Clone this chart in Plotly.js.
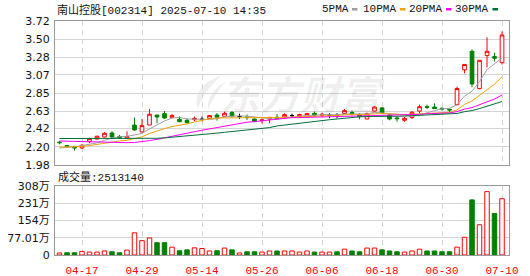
<!DOCTYPE html>
<html><head><meta charset="utf-8">
<script src="https://cdn.plot.ly/plotly-3.0.1.min.js"></script>
<style>html,body{margin:0;padding:0;background:#fff}#chart{width:530px;height:276px}</style>
</head><body><div id="chart"></div>
<script>
const dates = ["04-14","04-15","04-16","04-17","04-18","04-21","04-22","04-23","04-24","04-25","04-28","04-29","04-30",
"05-06","05-07","05-08","05-09","05-12","05-13","05-14","05-15","05-16","05-19","05-20","05-21","05-22","05-23","05-26","05-27","05-28","05-29","05-30",
"06-03","06-04","06-05","06-06","06-09","06-10","06-11","06-12","06-13","06-16","06-17","06-18","06-19","06-20","06-23","06-24","06-25","06-26","06-27","06-30",
"07-01","07-02","07-03","07-04","07-07","07-08","07-09","07-10"];

const opens  = [2.255,2.215,2.205,2.186,2.262,2.294,2.318,2.367,2.323,2.306,2.463,2.379,2.463,2.584,2.601,2.556,2.532,2.52,2.528,2.532,
                2.544,2.584,2.568,2.613,2.565,2.56,2.536,2.518,2.536,2.556,2.56,2.577,2.565,2.568,2.605,2.58,2.584,2.58,2.601,2.613,
                2.592,2.536,2.632,2.67,2.584,2.548,2.52,2.553,2.632,2.685,2.681,2.665,2.653,2.71,3.13,3.354,2.903,3.302,3.29,3.217];
const highs  = [2.27,2.222,2.21,2.234,2.31,2.335,2.375,2.387,2.343,2.387,2.553,2.536,2.657,2.584,2.632,2.596,2.565,2.544,2.565,2.568,
                2.584,2.608,2.625,2.632,2.6,2.589,2.54,2.544,2.56,2.596,2.605,2.6,2.6,2.61,2.625,2.613,2.605,2.605,2.657,2.637,
                2.605,2.613,2.689,2.68,2.592,2.565,2.56,2.632,2.71,2.71,2.725,2.677,2.661,2.927,3.2,3.378,3.245,3.523,3.338,3.594];
const lows   = [2.23,2.195,2.155,2.17,2.245,2.287,2.315,2.303,2.294,2.299,2.395,2.371,2.463,2.484,2.536,2.556,2.496,2.48,2.508,2.508,
                2.536,2.516,2.556,2.556,2.536,2.524,2.5,2.48,2.487,2.528,2.548,2.553,2.55,2.56,2.565,2.556,2.544,2.544,2.596,2.577,
                2.532,2.532,2.625,2.6,2.52,2.504,2.504,2.536,2.605,2.657,2.661,2.637,2.617,2.701,3.088,2.919,2.895,3.16,3.229,3.193];
const closes = [2.25,2.205,2.185,2.218,2.298,2.327,2.363,2.318,2.306,2.323,2.403,2.456,2.593,2.56,2.548,2.577,2.504,2.492,2.544,2.532,
                2.577,2.556,2.605,2.572,2.565,2.553,2.504,2.524,2.556,2.54,2.589,2.577,2.59,2.601,2.58,2.592,2.584,2.58,2.637,2.596,
                2.565,2.601,2.681,2.61,2.536,2.54,2.544,2.617,2.685,2.677,2.661,2.657,2.645,2.904,3.195,2.959,3.245,3.354,3.27,3.551];

const ma5  = [2.185,2.19,2.2,2.215,2.231,2.247,2.278,2.305,2.322,2.327,2.343,2.361,2.416,2.467,2.512,2.547,2.556,2.536,2.533,2.530,
              2.530,2.540,2.563,2.568,2.575,2.570,2.560,2.544,2.540,2.535,2.543,2.557,2.570,2.579,2.587,2.588,2.589,2.587,2.595,2.598,
              2.592,2.596,2.616,2.611,2.599,2.594,2.582,2.569,2.584,2.613,2.637,2.659,2.665,2.709,2.812,2.872,2.989,3.131,3.204,3.276];
const ma10 = [2.195,2.197,2.2,2.205,2.215,2.23,2.245,2.26,2.27,2.279,2.295,2.320,2.361,2.395,2.420,2.445,2.459,2.476,2.500,2.521,
              2.538,2.548,2.550,2.551,2.552,2.550,2.550,2.553,2.554,2.555,2.556,2.559,2.557,2.560,2.561,2.565,2.573,2.579,2.587,2.593,
              2.590,2.593,2.602,2.603,2.598,2.593,2.589,2.593,2.598,2.606,2.615,2.621,2.617,2.647,2.712,2.754,2.824,2.898,2.957,3.044];
const ma20 = [2.27,2.268,2.265,2.26,2.255,2.252,2.25,2.25,2.25,2.25,2.252,2.26,2.275,2.29,2.31,2.33,2.35,2.365,2.382,2.400,
              2.416,2.434,2.455,2.473,2.486,2.497,2.504,2.515,2.527,2.538,2.547,2.553,2.553,2.555,2.557,2.558,2.562,2.566,2.571,2.574,
              2.573,2.576,2.579,2.581,2.580,2.579,2.581,2.586,2.592,2.599,2.603,2.607,2.609,2.625,2.655,2.674,2.707,2.745,2.777,2.825];
const ma30 = [2.30,2.30,2.298,2.297,2.296,2.295,2.295,2.295,2.295,2.296,2.297,2.298,2.30,2.303,2.308,2.315,2.322,2.33,2.338,2.348,
              2.357,2.365,2.375,2.384,2.393,2.402,2.411,2.42,2.432,2.452,2.463,2.476,2.489,2.502,2.511,2.520,2.527,2.536,2.547,2.556,
              2.562,2.566,2.569,2.571,2.571,2.569,2.571,2.575,2.580,2.584,2.587,2.591,2.592,2.603,2.624,2.638,2.662,2.690,2.714,2.747];

// volume in 万 (10k)
const volume = [9,10,10,16,13,13,18,14.5,10,22,99,64,76,55,55,35,19,23,32,29,
                18,19,31,23,9,14.5,14.5,13,18,18,18,18,13,18,13,13,13,14.5,26,18,
                14.5,31,31,23,18,14.5,13,18,26,18,18,14.5,14.5,35,79,246,135,283,185,251.314];
// 1 = up day (red), -1 = down day (green), as shown by the volume bar colours
const volDir = [1,-1,-1,1,1,1,1,-1,-1,1,1,1,1,-1,-1,1,-1,-1,1,1,
                1,-1,1,-1,1,-1,-1,1,1,-1,1,1,1,1,-1,1,1,-1,1,-1,
                -1,1,1,-1,-1,-1,1,1,1,-1,-1,-1,-1,1,1,-1,1,1,-1,1];

const priceTicks = ["1.98","2.20","2.42","2.63","2.85","3.07","3.28","3.50","3.72"];
const volTickVals = [0,77.01,154.02,231.03,308.04];
const volTickText = ["0","77.01万","154万","231万","308万"];
const xTickIdx = [3,11,19,27,35,43,51,59];
const titleText = "南山控股[002314] 2025-07-10 14:35";
const volLabel = "成交量:2513140";
const maNames = ["5PMA","10PMA","20PMA","30PMA"];
const watermark = "东方财富";

const RED = "#ff0000", GREEN = "#008000";
const maColors = ["#a0a0a0","#f0a30a","#ff00ff","#00703a"];
const idx = dates.map((d,i)=>i);

const isFlat = i => opens[i] === closes[i];
const flatI = idx.filter(isFlat);
const regI = idx.filter(i => !isFlat(i));

const traces = [];
traces.push({
  type:"candlestick", x: regI, open: regI.map(i=>opens[i]), high: regI.map(i=>highs[i]),
  low: regI.map(i=>lows[i]), close: regI.map(i=>closes[i]), xaxis:"x", yaxis:"y",
  increasing:{line:{color:RED,width:1}, fillcolor:"#ffffff"},
  decreasing:{line:{color:GREEN,width:1}, fillcolor:GREEN},
  whiskerwidth:0, hoverinfo:"skip", showlegend:false
});
traces.push({
  type:"candlestick", x: flatI, open: flatI.map(i=>opens[i]), high: flatI.map(i=>highs[i]),
  low: flatI.map(i=>lows[i]), close: flatI.map(i=>closes[i]), xaxis:"x", yaxis:"y",
  increasing:{line:{color:"#000000",width:1}, fillcolor:"#000000"},
  decreasing:{line:{color:"#000000",width:1}, fillcolor:"#000000"},
  whiskerwidth:0, hoverinfo:"skip", showlegend:false
});
[ma5,ma10,ma20,ma30].forEach((m,k)=>{
  traces.push({type:"scatter", mode:"lines", x: idx, y: m, xaxis:"x", yaxis:"y",
    line:{color:maColors[k], width:1}, hoverinfo:"skip", showlegend:false, name: maNames[k]});
});
traces.push({type:"bar", x: idx, y: volume.map((v,i)=>volDir[i]>0?v:null), xaxis:"x", yaxis:"y2",
  width:0.6, marker:{color:"#ffffff", line:{color:RED,width:1}}, hoverinfo:"skip", showlegend:false});
traces.push({type:"bar", x: idx, y: volume.map((v,i)=>volDir[i]<0?v:null), xaxis:"x", yaxis:"y2",
  width:0.6, marker:{color:GREEN, line:{color:GREEN,width:1}}, hoverinfo:"skip", showlegend:false});

// layout geometry helpers (pixel -> paper)
const L = 55, R = 509, T = 21, B = 255;
const px = p => (p - L) / (R - L);
const py = p => (B - p) / (B - T);

const annotations = [];
const shapes = [];
const legendEnds = [350, 396.5, 442.5, 488.5];
const dashStarts = [352, 400, 446, 492.5];
maNames.forEach((n,k)=>{
  annotations.push({xref:"paper", yref:"paper", x:px(legendEnds[k]), y:py(9.5), xanchor:"right", yanchor:"middle",
    text:n, showarrow:false, borderpad:0, font:{family:"Liberation Mono, monospace", size:11, color:"#111"}});
  shapes.push({type:"rect", xref:"paper", yref:"paper", x0:px(dashStarts[k]), x1:px(dashStarts[k]+5.5),
    y0:py(10.5), y1:py(8), fillcolor:maColors[k], line:{width:0}});
});
annotations.push({xref:"paper", yref:"paper", x:px(57), y:py(177), xanchor:"left", yanchor:"middle",
  text:volLabel, showarrow:false, borderpad:0, font:{family:"Liberation Mono, Noto Sans CJK SC", size:11, color:"#111"}});
annotations.push({xref:"paper", yref:"paper", x:px(303), y:py(93), xanchor:"center", yanchor:"middle",
  text:"<b><i>"+watermark+"</i></b>", showarrow:false, font:{family:"Noto Sans CJK SC", size:40, color:"rgba(0,0,0,0.065)"}});
// watermark logo swoosh (decorative)
const lx0 = 192, ly0 = 75;
shapes.push({type:"path", xref:"paper", yref:"paper", layer:"below",
  path:"M"+px(lx0+30)+","+py(ly0)+" Q"+px(lx0-2)+","+py(ly0+12)+" "+px(lx0+6)+","+py(ly0+35)+
       " Q"+px(lx0+10)+","+py(ly0+18)+" "+px(lx0+30)+","+py(ly0)+" Z",
  fillcolor:"rgba(0,0,0,0.065)", line:{width:0}});
shapes.push({type:"path", xref:"paper", yref:"paper", layer:"below",
  path:"M"+px(lx0+34)+","+py(ly0+6)+" Q"+px(lx0+14)+","+py(ly0+18)+" "+px(lx0+16)+","+py(ly0+35)+
       " Q"+px(lx0+22)+","+py(ly0+20)+" "+px(lx0+34)+","+py(ly0+6)+" Z",
  fillcolor:"rgba(0,0,0,0.065)", line:{width:0}});

const gridCol = "#d4d4d4";
const layout = {
  width:530, height:276,
  margin:{l:L, r:530-R, t:T, b:276-B, pad:0},
  paper_bgcolor:"#ffffff", plot_bgcolor:"#ffffff",
  showlegend:false,
  barmode:"overlay",
  title:{text:titleText, xref:"container", yref:"container", x:57/530, xanchor:"left", y:1-10/276, yanchor:"middle",
    font:{family:"Liberation Mono, Noto Sans CJK SC", size:11, color:"#111"}},
  xaxis:{
    type:"linear", range:[-0.6, 59.93], anchor:"y2",
    tickvals:xTickIdx, ticktext:xTickIdx.map(i=>dates[i]),
    showgrid:true, gridcolor:gridCol, griddash:"5px,4px", gridwidth:1,
    showline:true, linecolor:"#999999", linewidth:1, mirror:"all",
    ticks:"", zeroline:false, ticklabelstandoff:5,
    tickfont:{family:"Liberation Mono, monospace", size:11, color:RED},
    rangeslider:{visible:false}, fixedrange:true
  },
  yaxis:{
    domain:[(B-165)/(B-T), 1], range:[1.98, 3.72],
    tickvals:priceTicks.map(Number), ticktext:priceTicks,
    showgrid:true, gridcolor:gridCol, gridwidth:1, zeroline:false,
    showline:true, linecolor:"#999999", linewidth:1, mirror:true, ticks:"", ticklabelstandoff:2,
    tickfont:{family:"DejaVu Sans", size:11, color:"#111"}, fixedrange:true
  },
  yaxis2:{
    domain:[0, (B-186)/(B-T)], range:[0, 308.04],
    tickvals:volTickVals, ticktext:volTickText,
    showgrid:true, gridcolor:gridCol, gridwidth:1, zeroline:false,
    showline:true, linecolor:"#999999", linewidth:1, mirror:true, ticks:"", ticklabelstandoff:2,
    tickfont:{family:"DejaVu Sans, Noto Sans CJK SC", size:11, color:"#111"}, fixedrange:true
  },
  annotations:annotations,
  shapes:shapes
};
Plotly.newPlot("chart", traces, layout, {staticPlot:true, displayModeBar:false});
</script></body></html>
